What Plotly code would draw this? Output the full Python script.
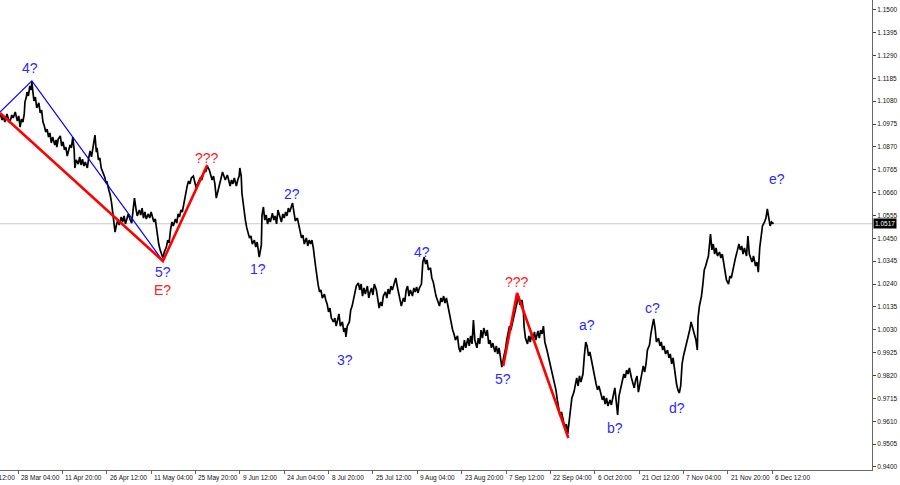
import plotly.graph_objects as go

# ---- price series (H4 bar index, price) ----
bars = [0, 3, 5, 7, 10, 12, 14, 17, 19, 22, 25, 27, 29, 31, 33, 35, 36, 38, 39, 41, 43, 45, 46, 48, 49, 51, 53, 56, 58, 60,
        62, 64, 66, 68, 70, 72, 74, 76, 79, 81, 82, 84, 87, 89, 91, 93, 95, 97, 99, 101, 103, 105, 107, 108, 110, 113, 115, 117, 119, 121,
        123, 126, 128, 130, 132, 134, 137, 139, 140, 142, 144, 146, 149, 151, 153, 154, 157, 159, 161, 163, 165, 166, 168, 170, 172, 175, 177, 179, 181, 183,
        185, 188, 190, 192, 194, 196, 198, 201, 203, 205, 207, 209, 211, 214, 216, 218, 220, 222, 224, 227, 229, 231, 233, 235, 237, 240, 242, 244, 246, 248,
        250, 253, 255, 257, 259, 261, 263, 266, 268, 270, 272, 274, 276, 279, 281, 283, 285,
        286, 289, 291, 293, 295, 297, 299, 302, 304, 306, 308, 310, 312, 315, 317, 319, 321, 323, 325, 328, 330, 332, 334, 336, 338, 341, 343, 345, 346, 348,
        349, 351, 354, 356, 358, 360, 362, 364, 367, 369, 371, 373, 374, 377, 378, 380, 382, 384, 386, 388, 390, 393, 395, 397, 399, 401, 403, 406, 408, 410,
        412, 414, 416, 418, 421, 422, 424, 426, 429, 431, 433, 435, 437, 439, 442, 444, 446, 448, 450, 452, 455, 457, 459, 461, 463, 465, 468, 470, 472, 474,
        476, 478, 481, 483, 485, 487, 489, 491, 494, 496, 498, 499, 501, 504, 506, 508, 510, 512, 514, 517, 519, 521, 523, 525, 527, 530, 532, 534, 536, 538,
        540, 543, 545, 547, 549, 551, 553, 556, 558, 560, 562, 564, 566, 569, 571, 573, 575, 577,
        579, 582, 584, 586, 588, 590, 592, 595, 597, 599, 601, 603, 605, 608, 609, 610, 612, 614, 616, 618, 621, 623, 625, 627, 629, 631, 634, 636, 638, 640,
        642, 644, 646, 649, 651, 653, 655, 657, 660, 662, 664, 666, 668, 670, 672, 675, 677, 679, 681, 683, 685, 688, 690, 692, 694, 696, 698, 701, 703, 705,
        707, 709, 711, 714, 716, 718, 720, 722, 724, 727, 729, 731, 733, 735, 737, 740, 742, 744, 746, 748, 750, 753, 755, 756, 758, 761, 763, 765, 767, 769,
        771, 773, 776, 778, 780, 782, 784, 786, 789, 791, 793, 795, 797, 799, 802, 804, 806, 808, 810, 812, 815, 817, 819, 821, 823, 825, 828, 830, 832, 834,
        836, 838, 841, 843, 845, 847, 849, 851, 854, 856, 858, 860, 862,
        864, 867, 869, 871, 873, 875, 877, 880, 882, 884, 886, 887, 890, 891, 893, 895, 898, 900, 902, 904, 906, 908, 911, 913, 915, 917, 919, 921, 924, 926,
        928, 930, 932, 934, 937, 939, 941, 943, 945, 947, 950, 952, 954, 956, 958, 960, 963, 965, 967, 969, 971, 973, 976, 978, 980, 982, 984, 986, 989, 991,
        993, 995, 997, 999, 1001, 1004, 1006, 1007, 1009, 1012, 1014, 1016, 1018, 1020, 1022, 1025, 1027, 1029, 1031, 1033, 1035, 1038, 1040, 1042, 1044, 1046, 1048, 1051, 1053, 1055,
        1057, 1059, 1061, 1064, 1066, 1068, 1070, 1072, 1074, 1077, 1079, 1081, 1083, 1085, 1087, 1090, 1092, 1094, 1096, 1098, 1100, 1103, 1105, 1107, 1109, 1111, 1113, 1116]

prices = [1.1026, 1.0993, 1.1012, 1.0984, 1.1021, 1.0998, 1.0980, 1.1016, 1.1003, 1.1030, 1.0989, 1.1012, 1.0961, 1.0998, 1.0984, 1.1021, 1.1076, 1.1099, 1.1122, 1.1104,
          1.1150, 1.1131, 1.1168, 1.1108, 1.1081, 1.1099, 1.1049, 1.1072, 1.1026, 1.1039,
          1.0984, 1.0966, 1.0938, 1.0952, 1.0915, 1.0934, 1.0888, 1.0915, 1.0879, 1.0902, 1.0869, 1.0906, 1.0920, 1.0874, 1.0893, 1.0856, 1.0869, 1.0828, 1.0851, 1.0879,
          1.0865, 1.0915, 1.0856, 1.0773, 1.0810, 1.0791, 1.0824, 1.0787, 1.0814, 1.0782,
          1.0800, 1.0773, 1.0819, 1.0851, 1.0824, 1.0865, 1.0924, 1.0846, 1.0865, 1.0810, 1.0819, 1.0773, 1.0750, 1.0732, 1.0704, 1.0713, 1.0672, 1.0649, 1.0612, 1.0553,
          1.0516, 1.0479, 1.0511, 1.0534, 1.0511, 1.0548, 1.0525, 1.0553, 1.0516, 1.0543,
          1.0562, 1.0534, 1.0520, 1.0580, 1.0635, 1.0589, 1.0553, 1.0580, 1.0557, 1.0589, 1.0543, 1.0571, 1.0539, 1.0562, 1.0543, 1.0571, 1.0548, 1.0525, 1.0539, 1.0465,
          1.0424, 1.0397, 1.0378, 1.0360, 1.0387, 1.0410, 1.0442, 1.0429, 1.0488, 1.0525,
          1.0507, 1.0539, 1.0520, 1.0562, 1.0548, 1.0580, 1.0571, 1.0631, 1.0663, 1.0690, 1.0713, 1.0700, 1.0727, 1.0736, 1.0709, 1.0681, 1.0700,
          1.0709, 1.0727, 1.0718, 1.0741, 1.0764, 1.0755, 1.0782, 1.0764, 1.0736, 1.0718, 1.0736, 1.0700, 1.0635, 1.0681, 1.0709, 1.0727, 1.0755, 1.0736, 1.0718, 1.0741,
          1.0709, 1.0690, 1.0718, 1.0700, 1.0727, 1.0690, 1.0718, 1.0736, 1.0773, 1.0736,
          1.0658, 1.0603, 1.0534, 1.0498, 1.0479, 1.0452, 1.0461, 1.0424, 1.0442, 1.0410, 1.0433, 1.0387, 1.0364, 1.0419, 1.0557, 1.0594, 1.0534, 1.0557, 1.0516, 1.0543,
          1.0525, 1.0566, 1.0534, 1.0553, 1.0516, 1.0580, 1.0553, 1.0525, 1.0562, 1.0543,
          1.0571, 1.0553, 1.0589, 1.0571, 1.0603, 1.0612, 1.0571, 1.0530, 1.0543, 1.0507, 1.0488, 1.0452, 1.0465, 1.0424, 1.0452, 1.0415, 1.0442, 1.0424, 1.0442, 1.0406,
          1.0328, 1.0268, 1.0236, 1.0204, 1.0213, 1.0176, 1.0194, 1.0167, 1.0148, 1.0112,
          1.0130, 1.0084, 1.0066, 1.0084, 1.0047, 1.0075, 1.0103, 1.0047, 1.0066, 1.0020, 1.0038, 0.9997, 1.0047, 1.0066, 1.0121, 1.0139, 1.0176, 1.0194, 1.0231, 1.0245,
          1.0213, 1.0240, 1.0185, 1.0222, 1.0194, 1.0231, 1.0176, 1.0204, 1.0222, 1.0190,
          1.0240, 1.0213, 1.0167, 1.0130, 1.0158, 1.0139, 1.0185, 1.0204, 1.0176, 1.0217, 1.0194, 1.0231, 1.0213, 1.0250, 1.0268, 1.0231, 1.0204, 1.0172,
          1.0139, 1.0176, 1.0158, 1.0213, 1.0231, 1.0185, 1.0213, 1.0185, 1.0222, 1.0204, 1.0227, 1.0199, 1.0222, 1.0240, 1.0314, 1.0341, 1.0364, 1.0332, 1.0351, 1.0305,
          1.0314, 1.0268, 1.0250, 1.0213, 1.0185, 1.0167, 1.0139, 1.0176, 1.0158, 1.0185,
          1.0153, 1.0176, 1.0139, 1.0084, 1.0057, 1.0029, 1.0011, 0.9983, 1.0002, 0.9947, 0.9928, 0.9956, 0.9937, 0.9983, 0.9947, 0.9992, 0.9956, 1.0002, 0.9965, 1.0075,
          0.9983, 0.9947, 0.9992, 0.9965, 1.0029, 0.9992, 1.0038, 1.0002, 1.0029, 0.9965,
          0.9983, 0.9947, 0.9969, 0.9928, 0.9956, 0.9919, 0.9947, 0.9910, 0.9859, 0.9910, 0.9937, 0.9983, 1.0011, 1.0047, 1.0029, 1.0075, 1.0093, 1.0130, 1.0158, 1.0185,
          1.0144, 1.0167, 1.0121, 1.0047, 0.9992, 0.9965, 1.0002, 0.9974, 1.0011, 0.9983,
          1.0020, 0.9983, 1.0025, 0.9992, 1.0029, 1.0011, 1.0047, 0.9974, 0.9937, 0.9910, 0.9873, 0.9855, 0.9818, 0.9800, 0.9754, 0.9708, 0.9662, 0.9634, 0.9653, 0.9616,
          0.9579, 0.9597, 0.9552, 0.9607, 0.9671, 0.9717, 0.9744, 0.9781, 0.9809, 0.9772,
          0.9818, 0.9790, 0.9827, 0.9910, 0.9974, 0.9956, 0.9910, 0.9928, 0.9873, 0.9836, 0.9809, 0.9781, 0.9754,
          0.9772, 0.9735, 0.9708, 0.9726, 0.9689, 0.9717, 0.9680, 0.9708, 0.9685, 0.9717, 0.9754, 0.9763, 0.9671, 0.9639, 0.9726, 0.9754, 0.9800, 0.9827, 0.9809, 0.9845,
          0.9827, 0.9855, 0.9809, 0.9781, 0.9763, 0.9800, 0.9818, 0.9744, 0.9800, 0.9836,
          0.9864, 0.9836, 0.9873, 0.9937, 0.9960, 1.0011, 1.0057, 1.0080, 1.0038, 0.9974, 0.9992, 0.9956, 0.9974, 0.9937, 0.9956, 0.9919, 0.9937, 0.9901, 0.9919, 0.9873,
          0.9901, 0.9845, 0.9781, 0.9754, 0.9740, 0.9772, 0.9873, 0.9910, 0.9947, 0.9974,
          1.0002, 1.0029, 1.0066, 1.0038, 1.0020, 0.9983, 0.9937, 1.0084, 1.0139, 1.0185, 1.0240, 1.0305, 1.0323, 1.0341, 1.0369, 1.0470, 1.0397, 1.0424, 1.0378, 1.0406,
          1.0369, 1.0387, 1.0360, 1.0378, 1.0332, 1.0295, 1.0259, 1.0240, 1.0277, 1.0268,
          1.0305, 1.0323, 1.0360, 1.0397, 1.0424, 1.0397, 1.0415, 1.0378, 1.0406, 1.0369, 1.0461, 1.0378, 1.0360, 1.0341, 1.0369, 1.0323, 1.0341, 1.0295, 1.0406, 1.0461,
          1.0507, 1.0525, 1.0543, 1.0585, 1.0543, 1.0507, 1.0525, 1.0517]

# ---- wave markup ----
blue_wave_bars = [0, 46, 235]
blue_wave_prices = [1.1030, 1.1173, 1.0346]
red_wave1_bars = [0, 235, 299]
red_wave1_prices = [1.1026, 1.0346, 1.0787]
red_wave2_bars = [726, 746, 820]
red_wave2_prices = [0.9864, 1.0199, 0.9533]

label_texts = ["4?", "5?", "E?", "???", "1?", "2?", "3?", "4?", "5?", "???", "a?", "b?", "c?", "d?", "e?"]
label_bars = [43, 235, 234, 299, 372, 421, 498, 609, 726, 746, 847, 887, 942, 977, 1121]
label_prices = [1.1232, 1.0295, 1.0213, 1.0819, 1.0309, 1.0654, 0.9891, 1.0387, 0.9804, 1.0250, 1.0052, 0.9579, 1.0130, 0.9671, 1.0723]
label_colors = ["blue", "blue", "red", "red", "blue", "blue", "blue", "blue", "blue", "red", "blue", "blue", "blue", "blue", "blue"]

# ---- axes ----
time_tick_bars = [-38, 26, 90, 154, 218, 282, 346, 410, 474, 538, 602, 666, 730, 794, 858, 922, 986, 1050, 1114]
time_tick_labels = ["11 Mar 12:00", "28 Mar 04:00", "11 Apr 20:00", "26 Apr 12:00", "11 May 04:00", "25 May 20:00",
                    "9 Jun 12:00", "24 Jun 04:00", "8 Jul 20:00", "25 Jul 12:00", "9 Aug 04:00", "23 Aug 20:00",
                    "7 Sep 12:00", "22 Sep 04:00", "6 Oct 20:00", "21 Oct 12:00", "7 Nov 04:00", "21 Nov 20:00", "6 Dec 12:00"]
price_ticks = [0.9400, 0.9505, 0.9610, 0.9715, 0.9820, 0.9925, 1.0030, 1.0135, 1.0240, 1.0345, 1.0450,
               1.0555, 1.0660, 1.0765, 1.0870, 1.0975, 1.1080, 1.1185, 1.1290, 1.1395, 1.1500]
last_price = 1.0517

x_range = [0, 1258]
y_range = [0.93862, 1.15445]

BLUE = "#2b2bff"
RED = "#ff2020"
AXIS_FONT = dict(family="Liberation Sans, Arial, sans-serif", size=6.5, color="#111111")

fig = go.Figure()

fig.add_trace(go.Scatter(x=bars, y=prices, mode="lines",
                         line=dict(color="black", width=1.7), hoverinfo="skip", showlegend=False))
fig.add_trace(go.Scatter(x=blue_wave_bars, y=blue_wave_prices, mode="lines",
                         line=dict(color="#0000ff", width=1.2), hoverinfo="skip", showlegend=False))
fig.add_trace(go.Scatter(x=red_wave1_bars, y=red_wave1_prices, mode="lines",
                         line=dict(color="#ff0000", width=2.6), hoverinfo="skip", showlegend=False))
fig.add_trace(go.Scatter(x=red_wave2_bars, y=red_wave2_prices, mode="lines",
                         line=dict(color="#ff0000", width=2.6), hoverinfo="skip", showlegend=False))

# current price line
fig.add_shape(type="line", xref="paper", x0=0, x1=1, yref="y", y0=last_price, y1=last_price,
              line=dict(color="#c8c8c8", width=1), layer="below")

annotations = []
for t, b, p, c in zip(label_texts, label_bars, label_prices, label_colors):
    annotations.append(dict(x=b, y=p, xref="x", yref="y", text=t, showarrow=False,
                            font=dict(family="Liberation Sans, Arial, sans-serif", size=14,
                                      color=BLUE if c == "blue" else RED)))

span = x_range[1] - x_range[0]
for b, lab in zip(time_tick_bars, time_tick_labels):
    annotations.append(dict(x=(b - x_range[0]) / span, y=0, xref="paper", yref="paper",
                            text=lab, showarrow=False, xanchor="left", yanchor="top",
                            xshift=1, yshift=-2, font=AXIS_FONT))

annotations.append(dict(x=1, y=last_price, xref="paper", yref="y", text="%.4f" % last_price,
                        showarrow=False, xanchor="left", yanchor="middle", xshift=1,
                        bgcolor="black", borderpad=1,
                        font=dict(family="Liberation Sans, Arial, sans-serif", size=6.5, color="white")))

fig.update_layout(
    width=900, height=485,
    margin=dict(l=0, r=28, t=0, b=15),
    paper_bgcolor="white", plot_bgcolor="white",
    showlegend=False,
    annotations=annotations,
    xaxis=dict(range=x_range, showgrid=False, zeroline=False, showline=True,
               linecolor="#666666", linewidth=1, ticks="outside", ticklen=3,
               tickcolor="#666666", tickvals=time_tick_bars, showticklabels=False,
               fixedrange=True),
    yaxis=dict(range=y_range, side="right", showgrid=False, zeroline=False,
               showline=True, linecolor="#666666", linewidth=1, ticks="outside",
               ticklen=3, tickcolor="#444444", tickvals=price_ticks, tickformat=".4f",
               tickfont=AXIS_FONT, fixedrange=True, automargin=False),
)

fig.write_html("out.html", config={"displayModeBar": False},
               post_script="document.body.style.margin='0';document.body.style.overflow='hidden';")
